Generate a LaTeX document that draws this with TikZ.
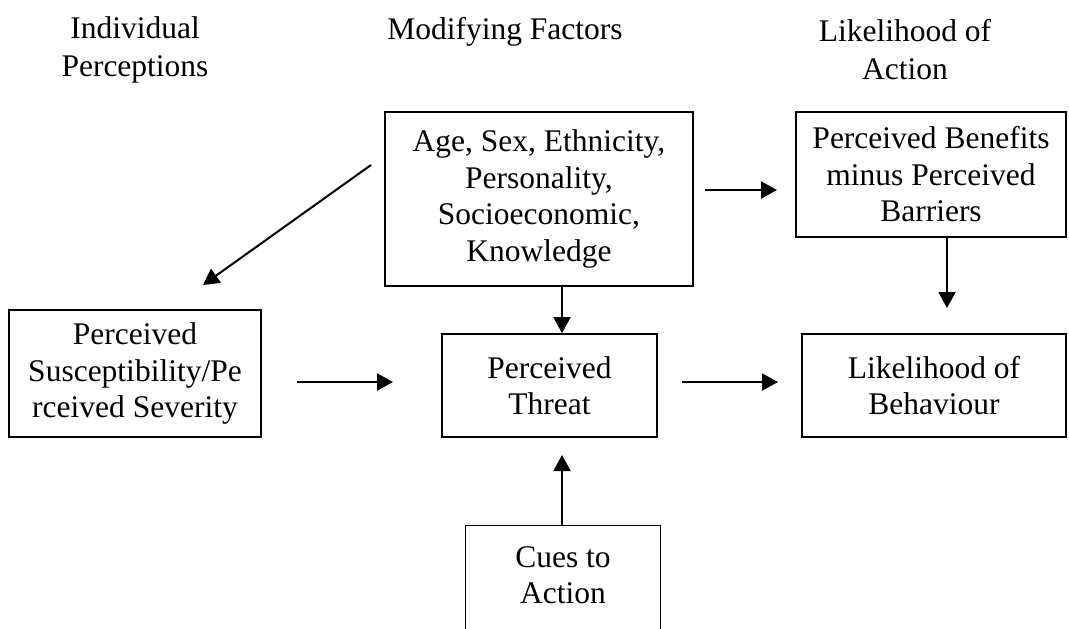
\documentclass[tikz,border=0pt]{standalone}
\usepackage{fontspec}
\setmainfont{Liberation Serif}
\usetikzlibrary{arrows.meta}
\tikzset{
  box/.style={draw, line width=0.8pt, rectangle, inner sep=0pt, align=center,
    font=\fontsize{15.75pt}{18.25pt}\selectfont},
  txt/.style={inner sep=0pt, align=center, font=\fontsize{15.75pt}{18.25pt}\selectfont},
  hdr/.style={inner sep=0pt, align=center, font=\fontsize{15.75pt}{19pt}\selectfont},
  arr/.style={line width=1pt, -{Triangle[length=8pt,width=8.5pt]}}
}
\begin{document}
\begin{tikzpicture}[x=0.5pt,y=-0.5pt]
\useasboundingbox (0,0) rectangle (1069,628);
\clip (0,0) rectangle (1069,628);
% headers
\node[hdr] (h1) at (135,50) {Individual\\Perceptions};
\node[hdr] (h2) at (505,32) {Modifying Factors};
\node[hdr] (h3) at (905,50) {Likelihood of\\Action};
% boxes
\node[box, minimum width=308*0.5pt, minimum height=174*0.5pt] (mod) at (539,199)
  {Age, Sex, Ethnicity,\\Personality,\\Socioeconomic,\\Knowledge};
\node[box, minimum width=270*0.5pt, minimum height=125*0.5pt] (ben) at (931,174.5)
  {Perceived Benefits\\minus Perceived\\Barriers};
\node[box, minimum width=252*0.5pt, minimum height=127*0.5pt] (sus) at (135,373.5)
  {Perceived\\Susceptibility/Pe\\rceived Severity};
\node[box, minimum width=215*0.5pt, minimum height=103*0.5pt] (thr) at (549.5,385.5)
  {Perceived\\Threat};
\node[box, minimum width=264*0.5pt, minimum height=103*0.5pt] (beh) at (934,385.5)
  {Likelihood of\\Behaviour};
\node[txt, minimum width=194*0.5pt, minimum height=98*0.5pt] (cues) at (563,575)
  {Cues to\\Action};
\draw[line width=0.8pt] ([yshift=-40pt]cues.south west) -- (cues.north west)
  -- (cues.north east) -- ([yshift=-40pt]cues.south east);
% coordinates
\coordinate (xa) at (562,0);
\coordinate (xb) at (947,0);
\coordinate (d1) at (371,165);
\coordinate (d2) at (203,285);
\coordinate (r1) at (705,190);
\coordinate (r2) at (777,190);
\coordinate (s1) at (297,382);
\coordinate (s2) at (393,382);
\coordinate (t1) at (682,382);
\coordinate (t2) at (778,382);
\coordinate (bt) at (947,308);
\coordinate (ct) at (562,455);
% arrows
\draw[arr] (d1) -- (d2);
\draw[arr] (r1) -- (r2);
\draw[arr] (ben.south -| xb) -- (bt);
\draw[arr] (mod.south -| xa) -- (thr.north -| xa);
\draw[arr] (s1) -- (s2);
\draw[arr] (t1) -- (t2);
\draw[arr] (cues.north -| xa) -- (ct);
\end{tikzpicture}
\end{document}
